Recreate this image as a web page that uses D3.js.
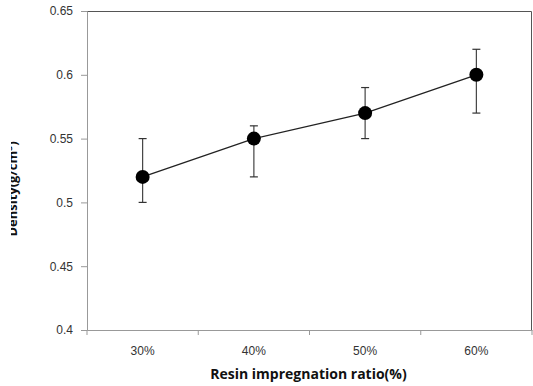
<!DOCTYPE html>
<html>
<head>
<meta charset="utf-8">
<script src="https://cdn.jsdelivr.net/npm/d3@7"></script>
<style>
  body { margin: 0; background: #fff; }
  svg { display: block; font-family: "Open Sans", "Noto Sans", sans-serif; }
</style>
</head>
<body>
<svg id="vis" width="533" height="386"></svg>
<script>
// data
const ratios = ['30%', '40%', '50%', '60%']
const density = [0.52, 0.55, 0.57, 0.60]
const errLow = [0.50, 0.52, 0.55, 0.57]
const errHigh = [0.55, 0.56, 0.59, 0.62]
const yTicks = [0.4, 0.45, 0.5, 0.55, 0.6, 0.65]

const margin = {left: 87, top: 11, right: 1, bottom: 56}
const width = 533 - margin.left - margin.right
const height = 386 - margin.top - margin.bottom

const svg = d3.select('#vis')
const chart = svg.append('g')
    .attr('transform', 'translate(' + margin.left + ',' + margin.top + ')')

const x = d3.scaleBand().domain(ratios).range([0, width])
const y = d3.scaleLinear().domain([0.4, 0.65]).range([height, 0])

// frame top & right
chart.append('path')
    .attr('d', 'M0,0.5H' + (width - 0.5) + 'V' + height)
    .attr('fill', 'none')
    .attr('stroke', '#555')
    .attr('stroke-width', 1)

// y axis
const yAxis = chart.append('g')
    .call(d3.axisLeft(y).tickValues(yTicks).tickSize(6).tickPadding(8)
        .tickFormat(d => String(+d.toFixed(2))))
yAxis.select('.domain').attr('stroke', '#999')
yAxis.selectAll('.tick line').attr('stroke', '#999')
yAxis.selectAll('text').attr('font-size', 12).attr('fill', '#333')

// x axis, ticks at band boundaries
const xAxis = chart.append('g')
    .attr('transform', 'translate(0,' + height + ')')
    .call(d3.axisBottom(x).tickSize(0).tickPadding(16))
xAxis.select('.domain').attr('stroke', '#999')
xAxis.selectAll('text').attr('font-size', 12).attr('fill', '#333')
xAxis.selectAll('.bound')
    .data(d3.range(ratios.length + 1))
    .enter().append('line')
    .attr('x1', i => i * x.step())
    .attr('x2', i => i * x.step())
    .attr('y1', 0).attr('y2', 5)
    .attr('stroke', '#999')

const cx = d => x(d) + x.bandwidth() / 2

// error bars
const eb = chart.selectAll('.err').data(ratios).enter().append('g').attr('class', 'err')
eb.append('line')
    .attr('x1', cx).attr('x2', cx)
    .attr('y1', (d, i) => y(errLow[i])).attr('y2', (d, i) => y(errHigh[i]))
    .attr('stroke', '#444').attr('stroke-width', 1.2)
eb.append('line')
    .attr('x1', d => cx(d) - 4).attr('x2', d => cx(d) + 4)
    .attr('y1', (d, i) => y(errLow[i])).attr('y2', (d, i) => y(errLow[i]))
    .attr('stroke', '#333').attr('stroke-width', 1.2)
eb.append('line')
    .attr('x1', d => cx(d) - 4).attr('x2', d => cx(d) + 4)
    .attr('y1', (d, i) => y(errHigh[i])).attr('y2', (d, i) => y(errHigh[i]))
    .attr('stroke', '#333').attr('stroke-width', 1.2)

// line
const line = d3.line()
    .x((d, i) => cx(ratios[i]))
    .y(d => y(d))
chart.append('path')
    .datum(density)
    .attr('d', line)
    .attr('fill', 'none')
    .attr('stroke', '#222')
    .attr('stroke-width', 1.3)

// markers
chart.selectAll('.dot').data(density).enter().append('circle')
    .attr('cx', (d, i) => cx(ratios[i]))
    .attr('cy', d => y(d))
    .attr('r', 7)
    .attr('fill', '#000')

// axis titles
svg.append('text')
    .attr('x', margin.left + width / 2 - 1)
    .attr('y', 379)
    .attr('text-anchor', 'middle')
    .attr('font-size', 14)
    .attr('font-weight', 'bold')
    .attr('fill', '#111')
    .text('Resin impregnation ratio(%)')

// the y title is cut off on its left side in the original
svg.append('clipPath').attr('id', 'ycut')
    .append('rect').attr('x', 11).attr('y', 0).attr('width', 40).attr('height', 386)
svg.append('g').attr('clip-path', 'url(#ycut)')
    .append('text')
    .attr('transform', 'translate(17,189) rotate(-90)')
    .attr('text-anchor', 'middle')
    .attr('font-size', 13)
    .attr('font-weight', 'bold')
    .attr('fill', '#111')
    .text('Density(g/cm³)')
</script>
</body>
</html>
